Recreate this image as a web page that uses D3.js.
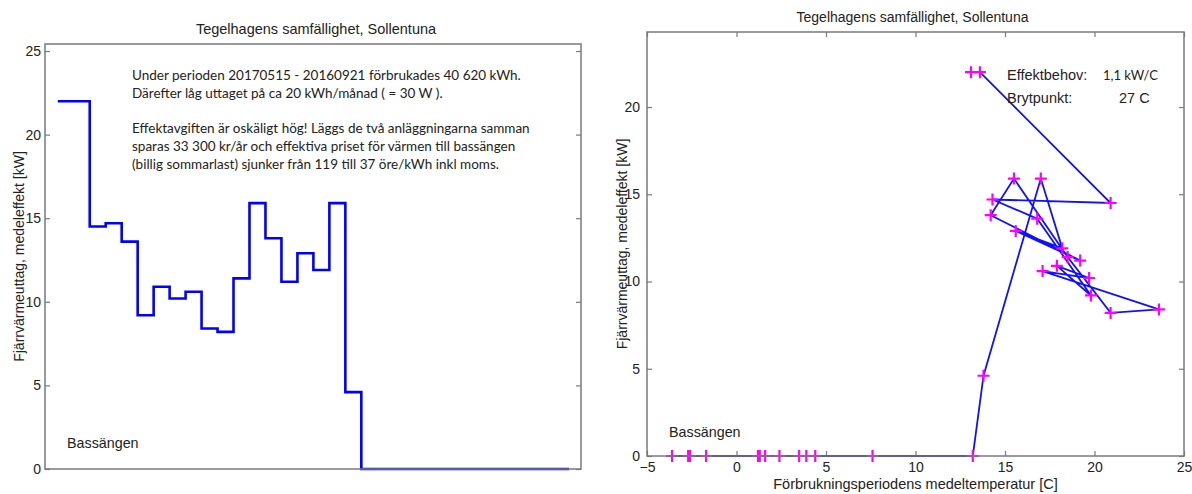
<!DOCTYPE html>
<html>
<head>
<meta charset="utf-8">
<script src="https://cdn.jsdelivr.net/npm/d3@7/dist/d3.min.js"></script>
<style>
  body { margin: 0; background: #fff; }
  text { font-family: "Liberation Sans", Arial, sans-serif; fill: #222; }
  .note { font-family: Lato, "Open Sans", sans-serif; }
</style>
</head>
<body>
<script>
// medeleffekt per förbrukningsperiod [kW], in time order
var effekt = [22.0, 22.0, 14.5, 14.7, 13.6, 9.2, 10.9, 10.2, 10.6, 8.4, 8.2, 11.4, 15.9, 13.8, 11.2, 12.9,
              11.9, 15.9, 4.6, 0, 0, 0, 0, 0, 0, 0, 0, 0, 0, 0, 0, 0];
// medeltemperatur per period [C], same order
var temp = [13.1, 13.6, 20.9, 14.3, 16.8, 19.8, 17.9, 19.7, 17.1, 23.6, 20.9, 18.5, 15.5, 14.2, 19.2, 15.6,
            18.2, 17.0, 13.8, 13.2, 7.6, 4.4, 1.6, -1.7, -2.6, -3.6, -2.7, 1.2, 1.3, 3.5, 3.9, 2.4];

var yTicksLeft = [0, 5, 10, 15, 20, 25];
var yTicksRight = [0, 5, 10, 15, 20];
var xTicksRight = [-5, 0, 5, 10, 15, 20, 25];

var title = "Tegelhagens samfällighet, Sollentuna";
var yLabel = "Fjärrvärmeuttag, medeleffekt [kW]";
var xLabelRight = "Förbrukningsperiodens medeltemperatur [C]";
var noteLines = [
  "Under perioden 20170515 - 20160921 förbrukades 40 620 kWh.",
  "Därefter låg uttaget på ca 20 kWh/månad  ( = 30 W ).",
  "",
  "Effektavgiften är oskäligt hög! Läggs de två anläggningarna samman",
  "sparas 33 300 kr/år och effektiva priset för värmen till bassängen",
  "(billig sommarlast) sjunker från 119 till 37 öre/kWh inkl moms."
];

var svg = d3.select("body").append("svg")
    .attr("width", 1192)
    .attr("height", 494);

var boxColor = "#7a7a7a";

// ---------- left chart: stairs over the periods ----------
var L = {left: 45, right: 581, top: 44, bottom: 469};
var gL = svg.append("g");

var xL = d3.scaleLinear().domain([-0.8, effekt.length + 0.75]).range([L.left, L.right]);
var yL = d3.scaleLinear().domain([0, 25.42]).range([L.bottom, L.top]);

var stairs = effekt.map(function(d, i) { return [i, d]; });
stairs.push([effekt.length, effekt[effekt.length - 1]]);

gL.append("path")
    .datum(stairs)
    .attr("fill", "none")
    .attr("stroke", "#0000ff")
    .attr("stroke-width", 2.6)
    .attr("d", d3.line()
        .curve(d3.curveStepAfter)
        .x(function(d) { return xL(d[0]); })
        .y(function(d) { return yL(d[1]); }));

// axes, MATLAB style ticks pointing inwards
gL.append("g")
    .attr("transform", "translate(" + L.left + ",0)")
    .call(d3.axisLeft(yL).tickValues(yTicksLeft).tickSizeInner(-5).tickSizeOuter(0).tickPadding(4))
    .call(styleAxis);
gL.append("g")
    .attr("transform", "translate(" + L.right + ",0)")
    .call(d3.axisRight(yL).tickValues(yTicksLeft).tickSizeInner(-5).tickSizeOuter(0).tickFormat(""))
    .call(styleAxis);

gL.append("rect")
    .attr("x", L.left).attr("y", L.top)
    .attr("width", L.right - L.left).attr("height", L.bottom - L.top)
    .attr("fill", "none").attr("stroke", boxColor).attr("stroke-width", 1.5);

gL.append("text")
    .attr("x", (L.left + L.right) / 2 + 3).attr("y", 34)
    .attr("text-anchor", "middle").attr("font-size", "14.5px")
    .text(title);

gL.append("text")
    .attr("transform", "translate(24," + (L.top + L.bottom) / 2 + ") rotate(-90)")
    .attr("text-anchor", "middle").attr("font-size", "14px")
    .text(yLabel);

gL.append("text")
    .attr("x", 67).attr("y", 448).attr("font-size", "14.3px")
    .text("Bassängen");

gL.selectAll(".note")
    .data(noteLines)
    .enter().append("text")
    .attr("class", "note")
    .attr("x", 132)
    .attr("y", function(d, i) { return 80 + i * 17.8; })
    .attr("font-size", "13.5px")
    .text(function(d) { return d; });

// ---------- right chart: effekt vs temperature ----------
var R = {left: 647, right: 1184, top: 32, bottom: 456};
var gR = svg.append("g");

var xR = d3.scaleLinear().domain([-5, 25]).range([R.left, R.right]);
var yR = d3.scaleLinear().domain([0, 24.3]).range([R.bottom, R.top]);

var pts = temp.map(function(t, i) { return [t, effekt[i]]; });

gR.append("g")
    .attr("transform", "translate(" + R.left + ",0)")
    .call(d3.axisLeft(yR).tickValues(yTicksRight).tickSizeInner(-5).tickSizeOuter(0).tickPadding(7))
    .call(styleAxis);
gR.append("g")
    .attr("transform", "translate(" + R.right + ",0)")
    .call(d3.axisRight(yR).tickValues(yTicksRight).tickSizeInner(-5).tickSizeOuter(0).tickFormat(""))
    .call(styleAxis);
gR.append("g")
    .attr("transform", "translate(0," + R.bottom + ")")
    .call(d3.axisBottom(xR).tickValues(xTicksRight).tickSizeInner(-5).tickSizeOuter(0).tickPadding(6))
    .call(styleAxis);
gR.append("g")
    .attr("transform", "translate(0," + R.top + ")")
    .call(d3.axisTop(xR).tickValues(xTicksRight).tickSizeInner(-5).tickSizeOuter(0).tickFormat(""))
    .call(styleAxis);

gR.append("path")
    .datum(pts)
    .attr("fill", "none")
    .attr("stroke", "#1010ff")
    .attr("stroke-width", 1.8)
    .attr("d", d3.line()
        .x(function(d) { return xR(d[0]); })
        .y(function(d) { return yR(d[1]); }));

// plus markers
gR.selectAll(".mark")
    .data(pts)
    .enter().append("path")
    .attr("class", "mark")
    .attr("transform", function(d) { return "translate(" + xR(d[0]) + "," + yR(d[1]) + ")"; })
    .attr("d", "M-6,0H6M0,-6V6")
    .attr("stroke", "#ff00ff")
    .attr("stroke-width", 2.2);

gR.append("rect")
    .attr("x", R.left).attr("y", R.top)
    .attr("width", R.right - R.left).attr("height", R.bottom - R.top)
    .attr("fill", "none").attr("stroke", boxColor).attr("stroke-width", 1.5);

gR.append("text")
    .attr("x", (R.left + R.right) / 2 - 3).attr("y", 22)
    .attr("text-anchor", "middle").attr("font-size", "14px")
    .text(title);

gR.append("text")
    .attr("transform", "translate(627," + (R.top + R.bottom) / 2 + ") rotate(-90)")
    .attr("text-anchor", "middle").attr("font-size", "14px")
    .text(yLabel);

gR.append("text")
    .attr("x", (R.left + R.right) / 2).attr("y", 489)
    .attr("text-anchor", "middle").attr("font-size", "14.5px")
    .text(xLabelRight);

gR.append("text")
    .attr("x", 669).attr("y", 437).attr("font-size", "14.3px")
    .text("Bassängen");

gR.append("text").attr("x", 1007).attr("y", 80).attr("font-size", "14.5px").text("Effektbehov:");
gR.append("text").attr("x", 1007).attr("y", 103).attr("font-size", "14.5px").text("Brytpunkt:");
gR.append("text").attr("class", "note").attr("x", 1103).attr("y", 80).attr("font-size", "13px").text("1,1 kW/C");
gR.append("text").attr("x", 1119).attr("y", 103).attr("font-size", "14.5px").text("27 C");

function styleAxis(g) {
  g.select(".domain").remove();
  g.selectAll(".tick line").attr("stroke", boxColor).attr("stroke-width", 1.2);
  g.selectAll(".tick text").attr("font-size", "14px").attr("fill", "#222");
}
</script>
</body>
</html>
